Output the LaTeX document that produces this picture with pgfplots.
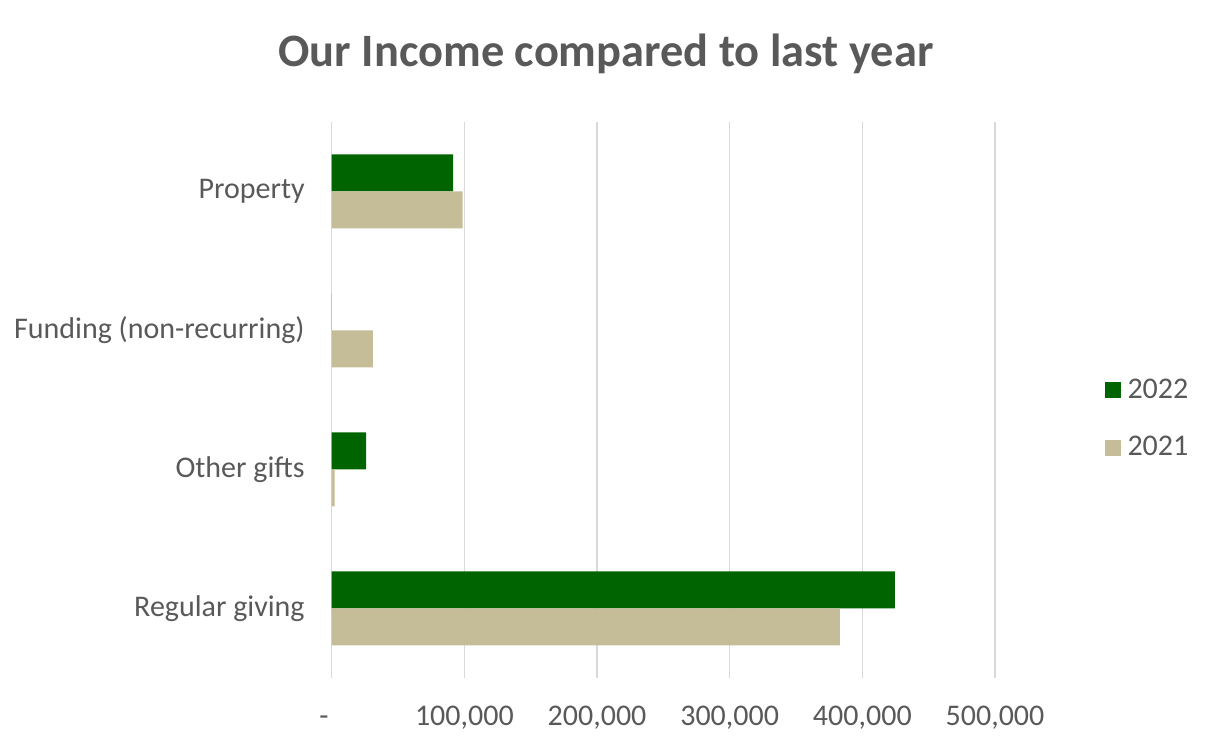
\documentclass[border=0pt]{standalone}
\usepackage{pgfplots}
\pgfplotsset{compat=1.18}
\usepackage{fontspec}
\setmainfont{Carlito}
\definecolor{g22}{HTML}{006400}
\definecolor{t21}{HTML}{C4BD97}
\definecolor{txt}{HTML}{595959}
\definecolor{gridc}{HTML}{D9D9D9}
\begin{document}
\begin{tikzpicture}
\path[use as bounding box] (-165.85pt,-37.5pt) rectangle (438.65pt,339pt);
\begin{axis}[
 at={(0pt,0pt)}, anchor=south west,
 scale only axis, width=331.65pt, height=278pt,
 xbar, bar width=18.5pt,
 xmin=0, xmax=500000, ymin=-0.5, ymax=3.5,
 xtick={0,100000,200000,300000,400000,500000},
 xticklabels={{\hspace*{-7.7pt}-},{100,000},{200,000},{300,000},{400,000},{500,000}},
 ytick={0,1,2,3},
 yticklabels={Regular giving, Other gifts, Funding (non-recurring), Property},
 axis line style={draw=none},
 major tick length=0pt,
 xmajorgrids, major grid style={gridc, line width=0.75pt},
 tick label style={font=\fontsize{15}{18}\selectfont, text=txt},
 xticklabel style={anchor=base, inner sep=0pt, yshift=-23.85pt},
 yticklabel style={anchor=east, xshift=-10pt},
 legend style={draw=none, at={(1.1645,0.466)}, anchor=west, font=\fontsize{15}{18}\selectfont, text=txt, row sep=13.5pt, inner sep=0pt},
 legend cell align=left,
 legend image code/.code={\fill[#1] (0pt,-4pt) rectangle (8pt,4pt); \path (0pt,0pt) -- (9.5pt,0pt);},
 clip=false,
]
\addplot[fill=g22, draw=none, bar shift=9.25pt] coordinates {(424500,0) (25900,1) (0,2) (91500,3)};
\addplot[fill=t21, draw=none, bar shift=-9.25pt] coordinates {(383000,0) (2300,1) (31000,2) (98700,3)};
\legend{2022,2021}
\end{axis}
\node[font=\bfseries\fontsize{23.2}{27}\selectfont, text=txt, anchor=base, inner sep=0pt] at (137.15pt,305.65pt) {Our Income compared to last year};
\end{tikzpicture}
\end{document}
